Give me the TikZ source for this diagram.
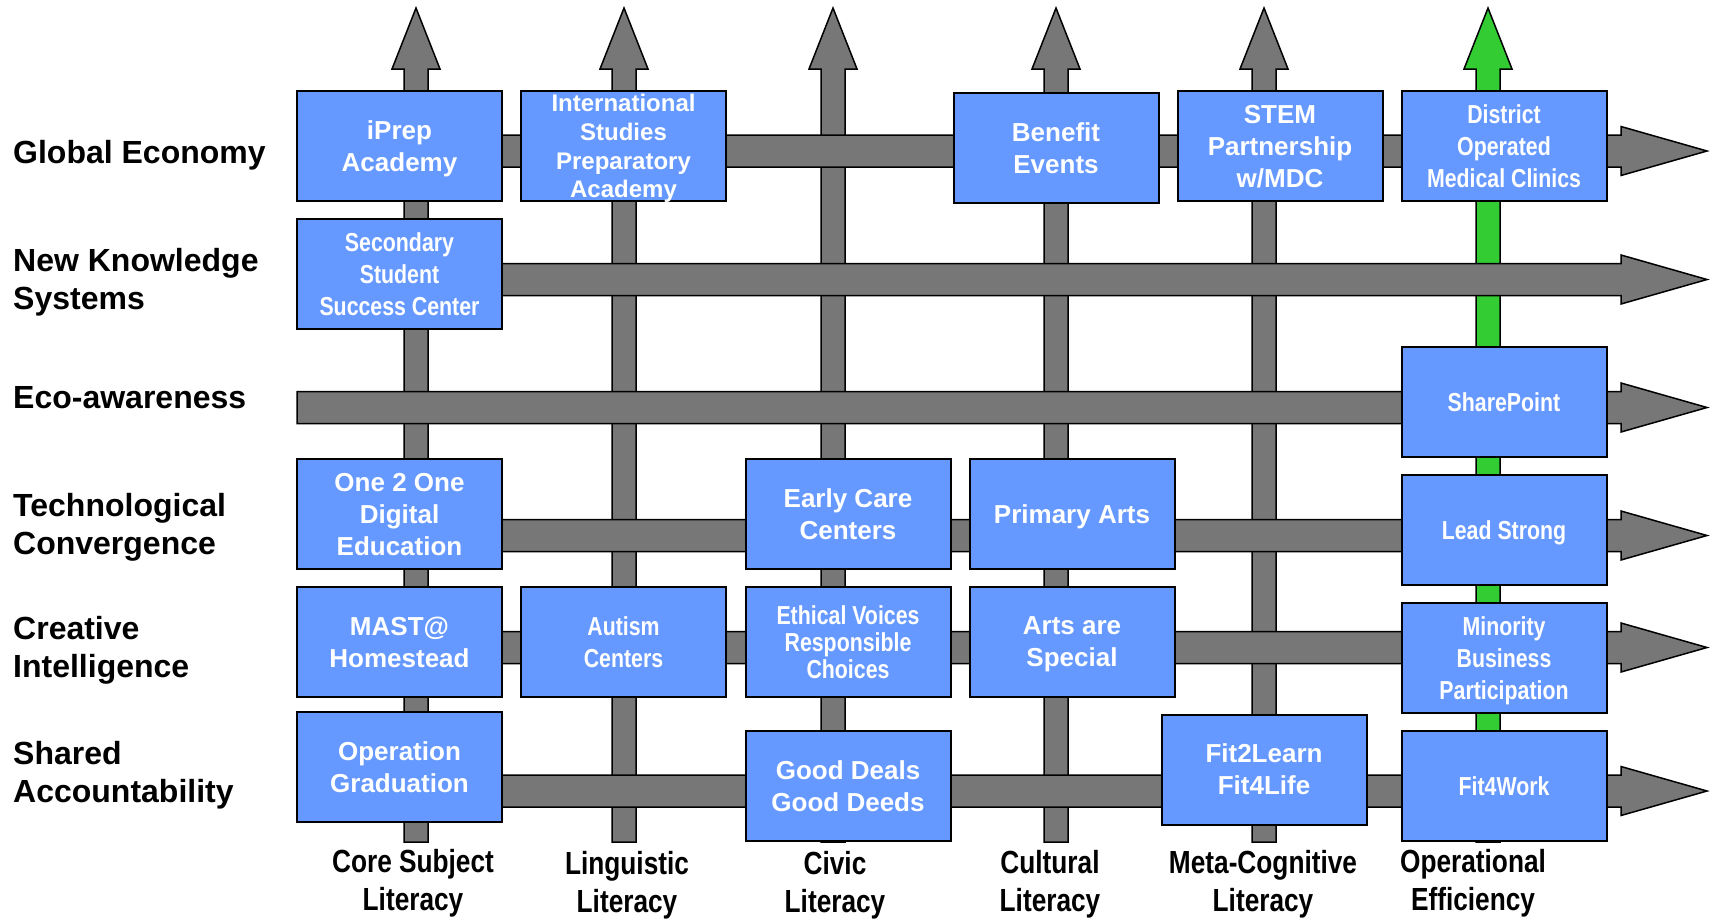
\documentclass[tikz,border=0pt]{standalone}
\usepackage{fontspec}
\setmainfont{Liberation Sans}
\newfontfamily\nb{Liberation Sans}[FakeStretch=0.82]
\definecolor{boxblue}{HTML}{6699FF}
\definecolor{arrgray}{HTML}{777777}
\definecolor{arrgreen}{HTML}{33CC33}
\tikzset{
  blk/.style={draw=black, line width=2pt, fill=boxblue, minimum width=205pt, minimum height=110pt,
    inner sep=0pt, text depth=0pt, text=white, align=center, font=\bfseries\fontsize{26}{32}\selectfont},
  nblk/.style={blk, font=\nb\bfseries\fontsize{26}{32}\selectfont},
  garrow/.style={fill=arrgray, draw=black, line width=1.5pt, line join=miter},
  grarrow/.style={fill=arrgreen, draw=black, line width=1.5pt, line join=miter},
  rowlab/.style={anchor=west, align=left, inner sep=0pt, font=\bfseries\fontsize{32}{38}\selectfont},
  collab/.style={align=center, inner sep=0pt, font=\nb\bfseries\fontsize{32}{38}\selectfont}
}
\newcommand{\varrow}[2]{%
  \draw[#2] (#1-12,842) -- (#1-12,69) -- (#1-24,69) -- (#1,8) -- (#1+24,69) -- (#1+12,69) -- (#1+12,842) -- cycle;}
\newcommand{\harrow}[1]{%
  \draw[garrow] (297,#1-16) -- (1621,#1-16) -- (1621,#1-24.5) -- (1707,#1) -- (1621,#1+24.5) -- (1621,#1+16) -- (297,#1+16) -- cycle;}
\begin{document}
\begin{tikzpicture}[x=1pt,y=-1pt]
\useasboundingbox (0,0) rectangle (1715,919);
% vertical arrows
\varrow{416}{garrow}
\varrow{624}{garrow}
\varrow{833}{garrow}
\varrow{1056}{garrow}
\varrow{1264}{garrow}
\varrow{1488}{grarrow}
% horizontal arrows
\harrow{151}
\harrow{279.5}
\harrow{407.5}
\harrow{535.5}
\harrow{647.5}
\harrow{791}
% boxes
\node[blk] (iprep) at (399.5,146) {iPrep\\Academy};
\node[blk, font=\bfseries\fontsize{24}{28.7}\selectfont] (intl) at (623.5,146) {International\\Studies\\Preparatory\\Academy};
\node[blk] (benefit) at (1056,148) {Benefit\\Events};
\node[blk] (stem) at (1280,146) {STEM\\Partnership\\w/MDC};
\node[nblk] (district) at (1504,146) {District\\Operated\\Medical Clinics};
\node[nblk] (secondary) at (399.5,274) {Secondary\\Student\\Success Center};
\node[nblk] (sharepoint) at (1504,402) {SharePoint};
\node[blk] (one2one) at (399.5,514) {One 2 One\\Digital\\Education};
\node[blk] (early) at (848,514) {Early Care\\Centers};
\node[blk] (primary) at (1072,514) {Primary Arts};
\node[nblk] (lead) at (1504,530) {Lead Strong};
\node[blk] (mast) at (399.5,642) {MAST@\\Homestead};
\node[nblk] (autism) at (623.5,642) {Autism\\Centers};
\node[nblk, font=\nb\bfseries\fontsize{26}{27}\selectfont] (ethical) at (848,642) {Ethical Voices\\Responsible\\Choices};
\node[blk] (artsspecial) at (1072,642) {Arts are\\Special};
\node[nblk] (minority) at (1504,658) {Minority\\Business\\Participation};
\node[blk] (opgrad) at (399.5,767) {Operation\\Graduation};
\node[blk] (gooddeals) at (848,786) {Good Deals\\Good Deeds};
\node[blk] (fit2learn) at (1264,769.5) {Fit2Learn\\Fit4Life};
\node[nblk] (fit4work) at (1504,786) {Fit4Work};
% row labels
\node[rowlab] (r1) at (13,155) {Global Economy};
\node[rowlab] (r2) at (13,282) {New Knowledge\\Systems};
\node[rowlab] (r3) at (13,398) {Eco-awareness};
\node[rowlab] (r4) at (13,527) {Technological\\Convergence};
\node[rowlab] (r5) at (13,650) {Creative\\Intelligence};
\node[rowlab] (r6) at (13,775) {Shared\\Accountability};
% column labels
\node[collab] (c1) at (413,883) {Core Subject\\Literacy};
\node[collab] (c2) at (627,885) {Linguistic\\Literacy};
\node[collab] (c3) at (835,885) {Civic\\Literacy};
\node[collab] (c4) at (1050,884) {Cultural\\Literacy};
\node[collab] (c5) at (1263,884) {Meta-Cognitive\\Literacy};
\node[collab] (c6) at (1473,883) {Operational\\Efficiency};
\end{tikzpicture}
\end{document}
